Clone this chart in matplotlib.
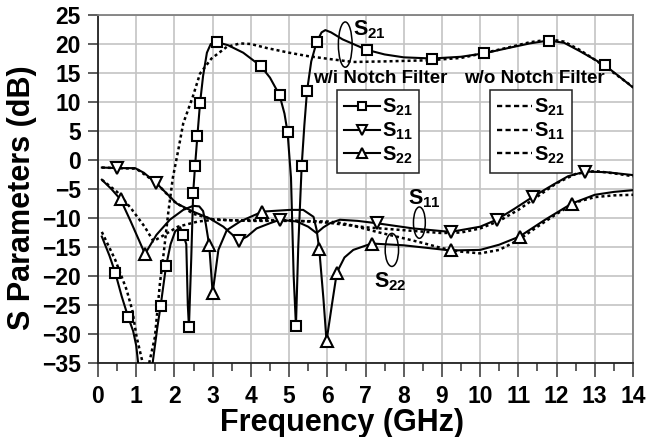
import matplotlib
matplotlib.use('Agg')
import matplotlib.pyplot as plt
from matplotlib.patches import Ellipse
from matplotlib.lines import Line2D
from matplotlib.ticker import MultipleLocator

plt.rcParams['font.family'] = ['Liberation Sans', 'DejaVu Sans']
plt.rcParams['font.weight'] = 'bold'
plt.rcParams['mathtext.fontset'] = 'custom'
plt.rcParams['mathtext.rm'] = 'Liberation Sans:bold'
plt.rcParams['mathtext.it'] = 'Liberation Sans:bold'
plt.rcParams['mathtext.bf'] = 'Liberation Sans:bold'

# ---------------- data ----------------
# with notch filter (solid)
s21_x = [0.10, 0.30, 0.45, 0.62, 0.79, 0.92, 1.00, 1.05, 1.15, 1.25, 1.35, 1.43, 1.55, 1.64, 1.78,
         1.90, 2.02, 2.15, 2.23, 2.31, 2.35, 2.38, 2.44, 2.49, 2.54, 2.60, 2.67, 2.75, 2.85, 2.95,
         3.12, 3.40, 3.80, 4.26, 4.50, 4.75, 4.88, 4.96, 5.05, 5.12, 5.18, 5.24, 5.33, 5.40, 5.47,
         5.58, 5.72, 5.85, 5.95, 6.10, 6.40, 7.03, 7.50, 8.00, 8.75, 9.50, 10.11, 10.80, 11.30,
         11.79, 12.20, 12.60, 13.00, 13.27, 13.60, 14.00]
s21_y = [-13.2, -16.5, -19.4, -23.5, -27.1, -29.5, -32.0, -35.0, -39.0, -40.0, -39.0, -35.0, -29.0, -25.1, -18.3,
         -14.5, -12.3, -11.6, -12.9, -14.5, -25.0, -28.8, -17.0, -5.7, -1.0, 4.1, 9.8, 14.5, 18.5, 20.0,
         20.3, 19.8, 18.5, 16.2, 14.2, 11.2, 8.0, 4.8, -3.0, -20.0, -28.6, -15.0, -1.0, 6.0, 11.9,
         17.0, 20.3, 22.0, 22.4, 22.0, 20.8, 19.0, 18.2, 17.7, 17.5, 17.8, 18.4, 19.4, 20.1,
         20.6, 20.2, 18.8, 17.3, 16.3, 14.6, 12.5]
s21_marks = [0.45, 0.79, 1.64, 1.78, 2.23, 2.38, 2.49, 2.54, 2.60, 2.67, 3.12, 4.26, 4.75, 4.96,
             5.18, 5.33, 5.47, 5.72, 7.03, 8.75, 10.11, 11.79, 13.27]

s11_x = [0.10, 0.51, 0.97, 1.20, 1.53, 1.80, 2.06, 2.49, 2.93, 3.28, 3.69, 3.90, 4.15, 4.50, 4.76,
         5.20, 5.50, 5.72, 5.90, 6.07, 6.33, 6.80, 7.29, 8.25, 9.23, 10.00, 10.43, 10.90, 11.39,
         11.90, 12.30, 12.75, 13.30, 14.00]
s11_y = [-1.3, -1.4, -1.4, -2.2, -4.0, -5.8, -7.5, -8.9, -10.1, -11.5, -13.9, -13.2, -11.8, -10.9, -10.3,
         -10.6, -11.5, -12.6, -11.6, -10.9, -10.3, -10.5, -10.9, -11.8, -12.4, -11.5, -10.3, -8.4, -6.3,
         -4.3, -2.8, -2.0, -2.1, -2.6]
s11_marks = [0.51, 1.53, 3.69, 4.76, 7.29, 9.23, 10.43, 11.39, 12.75]

s22_x = [0.10, 0.35, 0.59, 0.85, 1.05, 1.23, 1.53, 1.88, 2.23, 2.49, 2.65, 2.75, 2.82, 2.91, 3.00,
         3.08, 3.15, 3.37, 3.72, 4.30, 5.03, 5.37, 5.64, 5.72, 5.79, 5.90, 5.98, 6.12, 6.25, 6.45,
         6.68, 7.16, 7.99, 9.23, 10.00, 10.50, 11.03, 11.70, 12.40, 13.00, 13.50, 14.00]
s22_y = [-3.4, -5.0, -6.8, -10.5, -13.5, -16.2, -12.9, -10.3, -8.6, -7.9, -8.0, -8.8, -11.0, -14.7, -22.9,
         -19.0, -15.5, -12.1, -10.6, -8.9, -8.6, -8.6, -9.8, -12.0, -15.4, -24.0, -31.2, -25.0, -19.4, -16.8,
         -15.5, -14.4, -14.7, -15.6, -15.5, -14.6, -13.2, -10.3, -7.5, -6.0, -5.5, -5.2]
s22_marks = [0.59, 1.23, 2.91, 3.00, 4.30, 5.79, 5.98, 6.25, 7.16, 9.23, 11.03, 12.40]

# without notch filter (dotted)
s21o_x = [0.10, 0.45, 0.75, 0.90, 1.01, 1.17, 1.25, 1.34, 1.49, 1.62, 1.72, 1.84, 1.96, 2.10, 2.23,
          2.48, 2.67, 2.97, 3.37, 3.72, 4.00, 4.42, 5.00, 5.50, 6.07, 6.68, 7.50, 8.69, 9.50, 10.08,
          10.80, 11.30, 11.83, 12.20, 12.60, 13.00, 13.50, 14.00]
s21o_y = [-12.4, -17.2, -22.4, -26.0, -30.5, -35.0, -37.0, -35.0, -30.5, -21.3, -16.0, -9.0, -3.0, 1.7, 6.3,
          10.9, 14.9, 17.5, 19.5, 20.1, 20.0, 19.3, 18.5, 17.9, 17.4, 16.9, 17.0, 17.2, 17.6, 18.4,
          19.5, 20.3, 20.8, 20.4, 19.0, 17.3, 15.0, 12.6]

s11o_x = [0.10, 0.50, 1.00, 1.50, 2.00, 2.50, 3.00, 3.50, 4.00, 5.00, 6.00, 6.50, 7.00, 8.00, 9.00,
          9.50, 10.00, 10.50, 11.00, 11.50, 12.00, 12.50, 13.00, 13.50, 14.00]
s11o_y = [-1.3, -1.4, -1.5, -3.8, -7.2, -9.3, -10.2, -10.4, -10.4, -10.4, -10.8, -11.2, -11.6, -12.1, -12.6,
          -12.5, -11.8, -10.5, -8.6, -6.3, -4.0, -2.4, -1.9, -2.3, -2.8]

s22o_x = [0.10, 0.50, 0.86, 1.22, 1.45, 1.74, 2.09, 2.62, 3.05, 4.00, 5.00, 6.00, 6.30, 6.60, 7.30,
          8.00, 8.50, 9.00, 9.50, 10.00, 10.50, 11.00, 11.50, 12.00, 12.50, 13.00, 13.50, 14.00]
s22o_y = [-3.4, -5.5, -8.3, -11.5, -14.0, -12.9, -11.5, -10.6, -10.3, -10.5, -10.5, -10.6, -10.8, -11.2, -12.4,
          -13.5, -14.3, -15.2, -15.8, -16.1, -15.5, -13.8, -11.5, -9.3, -7.3, -6.4, -6.1, -6.0]

x_ticks = list(range(0, 15))
y_ticks = list(range(-35, 30, 5))

# ---------------- figure ----------------
fig = plt.figure(figsize=(6.46, 4.37), dpi=100)
ax = fig.add_axes([98/646, 1-363/437, 535/646, 348/437])

LW = 1.5
dot = (0, (1.2, 1.2))
mk = dict(mfc='white', mec='black', mew=1.5)

ax.plot(s21o_x, s21o_y, color='black', lw=1.8, ls=dot, zorder=3)
ax.plot(s11o_x, s11o_y, color='black', lw=1.8, ls=dot, zorder=3)
ax.plot(s22o_x, s22o_y, color='black', lw=1.8, ls=dot, zorder=3)

ax.plot(s21_x, s21_y, color='black', lw=LW, marker='s', ms=7,
        markevery=[s21_x.index(v) for v in s21_marks], zorder=4, **mk)
ax.plot(s11_x, s11_y, color='black', lw=LW, marker='v', ms=8.5,
        markevery=[s11_x.index(v) for v in s11_marks], zorder=4, **mk)
ax.plot(s22_x, s22_y, color='black', lw=LW, marker='^', ms=8.5,
        markevery=[s22_x.index(v) for v in s22_marks], zorder=4, **mk)

ax.set_xlim(0, 14)
ax.set_ylim(-35, 25)
ax.set_xticks(x_ticks)
ax.set_yticks(y_ticks)
ax.xaxis.set_minor_locator(MultipleLocator(0.5))
ax.grid(True, which='major', color='#c4c4c4', lw=1.2, zorder=0)
ax.set_axisbelow(True)
ax.tick_params(axis='x', which='major', direction='out', length=10, width=1.1, pad=6,
               labelsize=16.5, color='#333333')
ax.tick_params(axis='x', which='minor', direction='out', length=5.5, width=1.1, color='#333333')
ax.tick_params(axis='y', which='major', direction='out', length=7.5, width=1.1, pad=5,
               labelsize=16.5, color='#333333')
for lab in ax.get_xticklabels() + ax.get_yticklabels():
    lab.set_fontweight('bold')
for s in ['left', 'bottom']:
    ax.spines[s].set_color('#222222')
    ax.spines[s].set_linewidth(1.3)
for s in ['top', 'right']:
    ax.spines[s].set_color('#808080')
    ax.spines[s].set_linewidth(1.3)

fig.text(342/646, 1-423/437, 'Frequency (GHz)', fontsize=22, fontweight='bold',
         ha='center', va='center')
fig.text(22/646, 1-198/437, 'S Parameters (dB)', fontsize=22, fontweight='bold',
         ha='center', va='center', rotation=90)

# annotations
ax.add_patch(Ellipse((6.47, 19.9), 0.36, 7.8, fill=False, ec='black', lw=1.1, zorder=5))
ax.text(6.68, 21.4, r'$S_{21}$', fontsize=15.5, ha='left', va='baseline', zorder=6)
ax.add_patch(Ellipse((8.41, -10.8), 0.31, 5.4, fill=False, ec='black', lw=1.1, zorder=5))
ax.text(8.12, -7.7, r'$S_{11}$', fontsize=15.5, ha='left', va='baseline', zorder=6)
ax.add_patch(Ellipse((7.69, -15.5), 0.35, 5.7, fill=False, ec='black', lw=1.1, zorder=5))
ax.text(7.21, -21.9, r'$S_{22}$', fontsize=15.5, ha='left', va='baseline', zorder=6)

ax.text(7.38, 14.0, 'w/i Notch Filter', fontsize=13.5, fontweight='bold', ha='center', va='center', zorder=6)
ax.text(11.41, 14.0, 'w/o Notch Filter', fontsize=13.5, fontweight='bold', ha='center', va='center', zorder=6)

labels = [r'$S_{21}$', r'$S_{11}$', r'$S_{22}$']
h1 = [Line2D([], [], color='black', lw=LW, marker=m, ms=s, **mk)
      for m, s in [('s', 6), ('v', 7.5), ('^', 7.5)]]
h2 = [Line2D([], [], color='black', lw=1.7, ls=(0, (2.2, 1.4))) for _ in range(3)]

common = dict(loc='upper left', fontsize=14.5, handlelength=1.75, handletextpad=0.1,
              borderpad=0.35, labelspacing=0.12, frameon=True, fancybox=False,
              edgecolor='#222222', framealpha=1, borderaxespad=0)
leg1 = ax.legend(h1, labels, bbox_to_anchor=((337.3-98)/535, (363-90)/348), **common)
leg1.get_frame().set_linewidth(1.1)
leg1.set_zorder(7)
ax.add_artist(leg1)
leg2 = ax.legend(h2, labels, bbox_to_anchor=((490-98)/535, (363-90)/348), **common)
leg2.get_frame().set_linewidth(1.1)
leg2.set_zorder(7)

fig.savefig('out.png', dpi=100)
